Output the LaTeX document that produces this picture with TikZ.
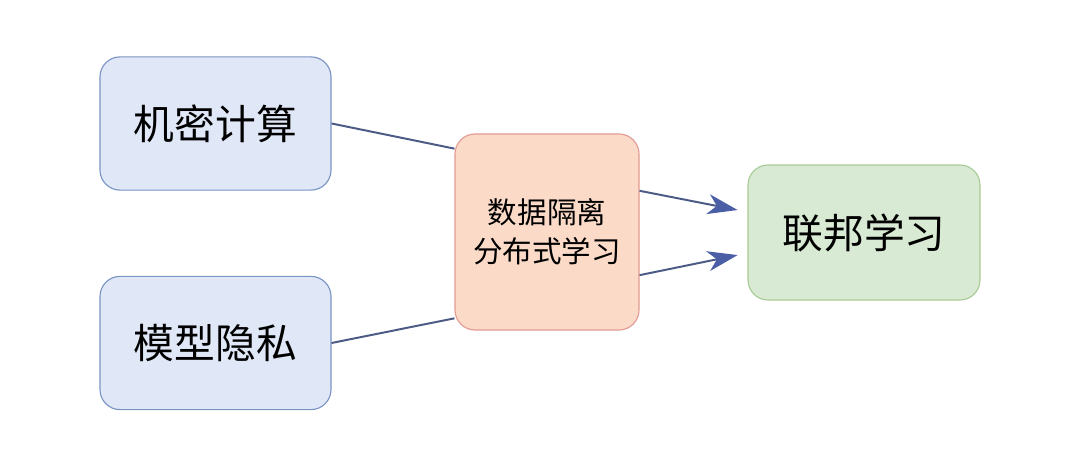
\documentclass[tikz,border=0pt]{standalone}
\usepackage{fontspec}
\usepackage{xcolor}
\setmainfont{Noto Sans CJK SC}
\usetikzlibrary{arrows.meta}
\definecolor{srcfill}{HTML}{E0E7F6}
\definecolor{srcline}{HTML}{7A94C4}
\definecolor{midfill}{HTML}{FBDBC8}
\definecolor{midline}{HTML}{E29A92}
\definecolor{fedfill}{HTML}{D8EAD3}
\definecolor{fedline}{HTML}{A9CB95}
\definecolor{linkcol}{HTML}{4C5A86}
\definecolor{tipcol}{HTML}{4A5FA6}

\begin{document}
\begin{tikzpicture}[
    every node/.style={align=center,rounded corners=0.5cm,line width=0.8pt},
    srcbox/.style={draw=srcline,fill=srcfill,minimum width=5.775cm,minimum height=3.33cm,font=\fontsize{29}{34}\selectfont},
    midbox/.style={draw=midline,fill=midfill,minimum width=4.6cm,minimum height=4.9cm,font=\fontsize{21}{28}\selectfont},
    fedbox/.style={draw=fedline,fill=fedfill,minimum width=5.8cm,minimum height=3.375cm,font=\fontsize{29}{34}\selectfont},
    link/.style={draw=linkcol,line width=1.4pt},
    tolink/.style={link,-{Stealth[length=0.75cm,width=0.5cm,inset=0.22cm,fill=tipcol,color=tipcol]},shorten >=0.25cm}]
  \useasboundingbox[fill=white] (0,0) rectangle (27,11.7);
  \node[srcbox] (conf) at (5.3875,8.6125) {机密计算};
  \node[srcbox] (priv) at (5.3875,3.125) {模型隐私};
  \node[midbox] (mid) at (13.675,5.9) {数据隔离\\分布式学习};
  \node[fedbox] (fed) at (21.6,5.8875) {联邦学习};
  % inputs
  \draw[link] (conf.east) -- (mid.138);
  \draw[link] (priv.east) -- (mid.223);
  % outputs
  \draw[tolink] (mid.24.5) -- (fed.170);
  \draw[tolink] (mid.-25.6) -- (fed.190);
\end{tikzpicture}
\end{document}
